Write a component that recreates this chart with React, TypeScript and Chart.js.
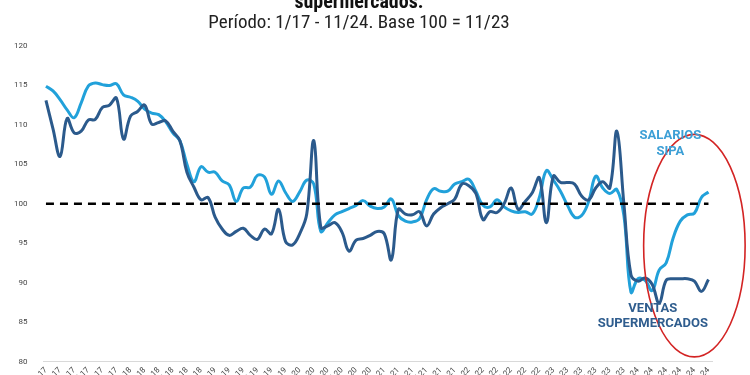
import { useEffect, useRef } from 'react';
import { Chart, registerables } from 'chart.js';

Chart.register(...registerables);

// ---- Data -------------------------------------------------------------
const MONTHS = ['ene', 'feb', 'mar', 'abr', 'may', 'jun', 'jul', 'ago', 'sep', 'oct', 'nov', 'dic'];
const YEARS = ['17', '18', '19', '20', '21', '22', '23', '24'];
const LAST_MONTH_2024 = 11; // nov-24

const LABELS: string[] = [];
YEARS.forEach((yy) => {
  MONTHS.forEach((m, mi) => {
    if (yy === '24' && mi + 1 > LAST_MONTH_2024) return;
    LABELS.push(`${m}-${yy}`);
  });
});

// Salarios SIPA (base 100 = 11/23)
const SALARIOS = [
  114.9, 114.3, 113.2, 111.9, 110.9, 112.8, 114.9, 115.3, 115.1, 115.0, 115.2, 113.8,
  113.5, 113.0, 112.0, 111.5, 111.3, 110.4, 109.0, 108.0, 105.0, 102.8, 104.7, 104.0,
  104.0, 102.9, 102.4, 100.3, 102.0, 102.1, 103.6, 103.4, 101.2, 102.9, 101.4, 100.3,
  101.5, 103.0, 102.5, 96.5, 97.6, 98.6, 99.0, 99.4, 99.8, 100.4, 99.7, 99.4,
  99.6, 100.6, 98.5, 97.8, 97.7, 98.1, 100.5, 101.9, 101.6, 101.6, 102.5, 102.8,
  103.1, 101.6, 99.8, 99.6, 100.5, 99.6, 99.1, 98.9, 99.0, 98.7, 100.8, 104.2,
  103.0, 101.6, 99.8, 98.3, 98.5, 100.3, 103.5, 102.0, 101.3, 101.8, 98.5, 88.8,
  90.5, 90.3, 89.0, 91.6, 92.5, 95.7, 97.8, 98.6, 98.8, 100.8, 101.5,
];

// Ventas en supermercados (base 100 = 11/23)
const VENTAS = [
  113.1, 109.5, 106.0, 110.8, 109.0, 109.2, 110.6, 110.7, 112.2, 112.5, 113.4, 108.2,
  111.1, 111.7, 112.5, 110.1, 110.3, 110.5, 109.2, 108.0, 104.0, 102.1, 100.5, 100.8,
  98.3, 96.8, 96.0, 96.5, 96.9, 96.0, 95.5, 96.8, 96.2, 99.3, 95.2, 94.8,
  96.2, 98.7, 108.0, 97.0, 97.2, 97.6, 96.4, 94.0, 95.4, 95.6, 96.0, 96.5,
  96.2, 92.9, 99.3, 98.7, 98.6, 99.0, 97.2, 98.7, 99.5, 100.0, 100.6, 102.5,
  102.3, 101.3, 98.0, 99.0, 98.9, 100.0, 102.0, 99.3, 100.3, 101.4, 103.3, 97.6,
  103.5, 102.7, 102.7, 102.5, 101.0, 100.5, 102.0, 102.8, 102.0, 109.2, 100.0, 91.0,
  90.2, 90.6, 89.8, 87.4, 90.3, 90.5, 90.5, 90.5, 90.2, 88.9, 90.4,
];

const BASE = 100;
const Y_TICKS = [80, 85, 90, 95, 100, 105, 110, 115, 120];
const TICK_EVERY = 2;

const TITLE = 'supermercados.';
const SUBTITLE = 'Período: 1/17 - 11/24. Base 100 = 11/23';

// ---- Styles -----------------------------------------------------------
const LIGHT = '#21a1da';
const DARK = '#2b5a8c';
const TITLE_FONT = '"Liberation Sans Narrow", "Roboto Condensed", Roboto, sans-serif';
const BODY_FONT = 'Roboto, "Noto Sans", sans-serif';

// annotation placement (in data units)
const NOTES = [
  { lines: ['SALARIOS', 'SIPA'], x: 88.6, y: [108.65, 106.6], color: '#3c9fd6' },
  { lines: ['VENTAS', 'SUPERMERCADOS'], x: 86.1, y: [86.74, 84.8], color: '#2f5d8e' },
];
const ELLIPSE = { cx: 92.0, cy: 94.7, rx: 7.2, ry: 14.1, color: '#d32424' };

const toPoints = (arr: number[]) => arr.map((v, i) => ({ x: i, y: v }));

const annotationPlugin = {
  id: 'annot',
  afterDatasetsDraw(chart: any) {
    const { ctx, scales } = chart;
    const xs = scales.x;
    const ys = scales.y;
    ctx.save();
    // ellipse
    const cx = xs.getPixelForValue(ELLIPSE.cx);
    const cy = ys.getPixelForValue(ELLIPSE.cy);
    const rx = Math.abs(xs.getPixelForValue(ELLIPSE.cx + ELLIPSE.rx) - cx);
    const ry = Math.abs(ys.getPixelForValue(ELLIPSE.cy + ELLIPSE.ry) - cy);
    ctx.beginPath();
    ctx.ellipse(cx, cy, rx, ry, 0, 0, Math.PI * 2);
    ctx.strokeStyle = ELLIPSE.color;
    ctx.lineWidth = 1.6;
    ctx.stroke();
    // notes
    ctx.font = `bold 13px ${BODY_FONT}`;
    ctx.textAlign = 'center';
    ctx.textBaseline = 'middle';
    NOTES.forEach((n) => {
      ctx.fillStyle = n.color;
      n.lines.forEach((line, k) => {
        ctx.fillText(line, xs.getPixelForValue(n.x), ys.getPixelForValue(n.y[k]));
      });
    });
    ctx.restore();
  },
};

export default function App() {
  const ref = useRef<HTMLCanvasElement>(null);

  useEffect(() => {
    if (!ref.current) return;
    const tickIdx = LABELS.map((_, i) => i).filter((i) => i % TICK_EVERY === 0);
    const chart = new Chart(ref.current, {
      type: 'line',
      data: {
        datasets: [
          {
            label: 'Base 100',
            data: toPoints(LABELS.map(() => BASE)),
            borderColor: '#000000',
            borderWidth: 2.5,
            borderDash: [8, 6],
            pointRadius: 0,
            tension: 0,
          },
          {
            label: 'Ventas supermercados',
            data: toPoints(VENTAS),
            borderColor: DARK,
            borderWidth: 3,
            pointRadius: 0,
            tension: 0.4,
          },
          {
            label: 'Salarios SIPA',
            data: toPoints(SALARIOS),
            borderColor: LIGHT,
            borderWidth: 3,
            pointRadius: 0,
            tension: 0.4,
          },
        ],
      },
      options: {
        responsive: false,
        animation: false,
        devicePixelRatio: 1,
        layout: { padding: { left: 6, right: 38, top: 0, bottom: 0 } },
        plugins: {
          legend: { display: false },
          tooltip: { enabled: false },
          title: {
            display: true,
            text: TITLE,
            color: '#111111',
            font: { family: TITLE_FONT, size: 20, weight: 'bold', lineHeight: 1 },
            padding: { top: 0, bottom: 0 },
          },
          subtitle: {
            display: true,
            text: SUBTITLE,
            color: '#222222',
            font: { family: TITLE_FONT, size: 19, lineHeight: 1.05 },
            padding: { top: 0, bottom: 13 },
          },
        },
        scales: {
          x: {
            type: 'linear',
            min: -0.35,
            max: LABELS.length - 0.5,
            afterBuildTicks: (axis: any) => {
              axis.ticks = tickIdx.map((v) => ({ value: v }));
            },
            grid: { display: true, color: 'rgba(0,0,0,0)', drawTicks: false },
            border: { display: true, color: '#d9d9d9', width: 1 },
            ticks: {
              autoSkip: false,
              maxRotation: 45,
              minRotation: 45,
              padding: 4,
              color: '#444444',
              font: { family: BODY_FONT, size: 8 },
              callback: (v: any) => LABELS[v] ?? '',
            },
          },
          y: {
            min: Y_TICKS[0],
            max: Y_TICKS[Y_TICKS.length - 1],
            afterBuildTicks: (axis: any) => {
              axis.ticks = Y_TICKS.map((v) => ({ value: v }));
            },
            grid: { display: false },
            border: { display: false },
            ticks: {
              padding: 8,
              color: '#444444',
              font: { family: BODY_FONT, size: 8 },
            },
          },
        },
      },
      plugins: [annotationPlugin],
    } as any);
    return () => chart.destroy();
  }, []);

  return (
    <div
      style={{
        position: 'fixed',
        left: 0,
        top: -7,
        width: 750,
        height: 402,
        background: '#ffffff',
        overflow: 'hidden',
      }}
    >
      <canvas ref={ref} width={750} height={402} style={{ display: 'block', width: 750, height: 402 }} />
    </div>
  );
}
